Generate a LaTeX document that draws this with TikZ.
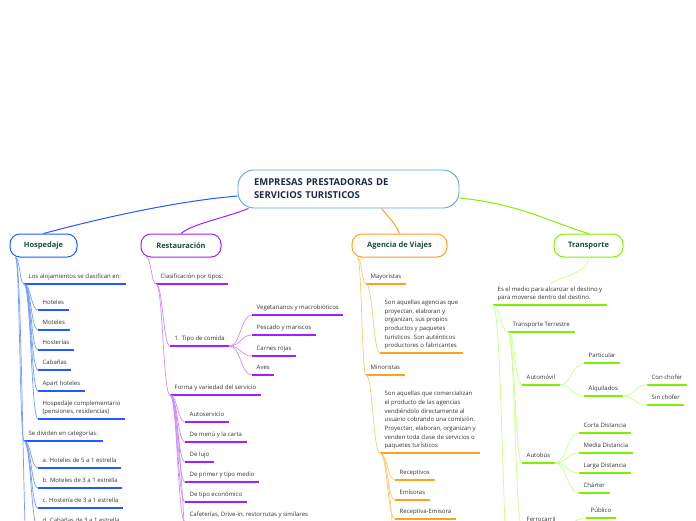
\documentclass[tikz,border=0pt]{standalone}
\usepackage{fontspec}
\setmainfont{Open Sans}
\usetikzlibrary{calc}

\definecolor{rootblue}{HTML}{5AA5E0}
\definecolor{rootnavy}{HTML}{1B2A4A}
\definecolor{titlegreen}{HTML}{1B4D3E}
\definecolor{leafgray}{HTML}{333333}
\definecolor{hospblue}{HTML}{1F5BFF}
\definecolor{hospline}{HTML}{6F9BFF}
\definecolor{restpurple}{HTML}{A020FF}
\definecolor{restline}{HTML}{CC8CFF}
\definecolor{agenorange}{HTML}{FFA020}
\definecolor{agenline}{HTML}{FFC870}
\definecolor{transgreen}{HTML}{80F000}
\definecolor{transline}{HTML}{C4FF8A}

\newcommand{\leaffont}{\fontsize{6}{8.7}\selectfont}
\newcommand{\topicfont}{\fontsize{7.5}{9}\selectfont\bfseries}
\newcommand{\rootfont}{\fontsize{9.5}{13}\selectfont\bfseries}

\tikzset{
  leaf/.style={anchor=south west, inner xsep=4.5pt, inner ysep=3pt,
    text depth=2pt, font=\leaffont, text=leafgray, align=left,
    append after command={(\tikzlastnode.south west)
      edge[draw=#1, line width=1.3pt] (\tikzlastnode.south east)}},
  topic/.style={draw=#1, line width=1pt, rounded corners=10pt, fill=white,
    minimum height=23pt, font=\topicfont, text=titlegreen},
  link/.style={draw=#1, line width=0.7pt,
    to path={let \p1=(\tikztostart), \p2=(\tikztotarget) in
      .. controls ({0.5*\x1+0.5*\x2}, \y1) and ({0.5*\x1+0.5*\x2}, \y2)
      .. (\tikztotarget)}},
}

\begin{document}
\begin{tikzpicture}[x=1pt,y=1pt]
\useasboundingbox (0,0) rectangle (696,-520);
\clip (0,0) rectangle (696,-520);

% central topic
\node[draw=rootblue, line width=0.9pt, rounded corners=16pt, fill=white,
  minimum width=221pt, minimum height=38pt, text width=189pt,
  inner xsep=16pt, align=left, font=\rootfont, text=rootnavy]
  (root) at (348.5,-189) {EMPRESAS PRESTADORAS DE\\SERVICIOS TURISTICOS};

% main topics
\node[topic=hospblue, minimum width=67pt] (hosp) at (43.5,-245.5) {Hospedaje};
\node[topic=restpurple, minimum width=80pt] (rest) at (181,-245.5) {Restauración};
\node[topic=agenorange, minimum width=95pt] (agen) at (399.5,-245.5) {Agencia de Viajes};
\node[topic=transgreen, minimum width=69pt] (trans) at (588.5,-245.5) {Transporte};

\draw[hospblue, line width=1pt] ([yshift=-7pt]root.west)
  .. controls +(-70,-6) and +(45,12) .. (hosp.north);
\draw[restpurple, line width=1pt] ([xshift=11pt]root.south west)
  .. controls +(-25,-10) and +(12,10) .. (rest.north);
\draw[agenorange, line width=1pt] ([xshift=33pt]root.south)
  .. controls +(8,-10) and +(-4,10) .. (agen.north);
\draw[transgreen, line width=1pt] ([yshift=-9pt]root.east)
  .. controls +(60,-6) and +(-40,12) .. (trans.north);

% Hospedaje
\node[leaf=hospblue] (alo) at (24,-284) {Los alojamientos se clasifican en:};
\node[leaf=hospblue] (hot) at (38,-310) {Hoteles};
\node[leaf=hospblue] (mot) at (38,-330) {Moteles};
\node[leaf=hospblue] (hos) at (38,-350) {Hosterías};
\node[leaf=hospblue] (cab) at (38,-370) {Cabañas};
\node[leaf=hospblue] (apa) at (38,-391) {Apart hoteles};
\node[leaf=hospblue] (com) at (38,-419) {Hospedaje complementario\\(pensiones, residencias)};
\node[leaf=hospblue] (cat) at (24,-441) {Se dividen en categorías:};
\node[leaf=hospblue] (ca) at (38,-468) {a. Hoteles de 5 a 1 estrella};
\node[leaf=hospblue] (cb) at (38,-488) {b. Moteles de 3 a 1 estrella};
\node[leaf=hospblue] (cc) at (38,-508) {c. Hostería de 3 a 1 estrella};
\node[leaf=hospblue] (cd) at (38,-528) {d. Cabañas de 3 a 1 estrella};
\coordinate (hospmore) at (30,-600);
\foreach \c in {alo,cat}
  \draw[link=hospline] ([xshift=6pt]hosp.south west) to (\c.south west);
\draw[link=hospline] ([xshift=6pt]hosp.south west) to (hospmore);
\foreach \c in {hot,mot,hos,cab,apa,com}
  \draw[link=hospline] (alo.south west) to (\c.south west);
\foreach \c in {ca,cb,cc,cd}
  \draw[link=hospline] (cat.south west) to (\c.south west);

% Restauracion
\node[leaf=restpurple] (cla) at (156,-284) {Clasificación por tipos:};
\node[leaf=restpurple] (tip) at (170,-346) {1. Tipo de comida};
\node[leaf=restpurple] (veg) at (252,-315) {Vegetarianos y macrobióticos};
\node[leaf=restpurple] (pes) at (252,-335) {Pescado y mariscos};
\node[leaf=restpurple] (car) at (252,-356) {Carnes rojas};
\node[leaf=restpurple] (ave) at (252,-375) {Aves};
\node[leaf=restpurple] (forma) at (170,-395) {Forma y variedad del servicio};
\node[leaf=restpurple] (aut) at (185,-422) {Autoservicio};
\node[leaf=restpurple] (men) at (185,-442) {De menú y la carta};
\node[leaf=restpurple] (luj) at (185,-462) {De lujo};
\node[leaf=restpurple] (pri) at (185,-482) {De primer y tipo medio};
\node[leaf=restpurple] (eco) at (185,-502) {De tipo económico};
\node[leaf=restpurple] (caf) at (185,-522) {Cafeterías, Drive-in, restorrutas y similares};
\coordinate (restmore) at (195,-600);
\draw[link=restline] ([xshift=6pt]rest.south west) to (cla.south west);
\foreach \c in {tip,forma}
  \draw[link=restline] (cla.south west) to (\c.south west);
\foreach \c in {veg,pes,car,ave}
  \draw[link=restline] (tip.south east) to (\c.south west);
\foreach \c in {aut,men,luj,pri,eco,caf}
  \draw[link=restline] (forma.south west) to (\c.south west);
\draw[link=restline] (forma.south west) to (restmore);

% Agencia de Viajes
\node[leaf=agenorange] (may) at (366,-284) {Mayoristas};
\node[leaf=agenorange] (pmy) at (380,-353) {Son aquellas agencias que\\proyectan, elaboran y\\organizan, sus propios\\productos y paquetes\\turísticos. Son auténticos\\productores o fabricantes};
\node[leaf=agenorange] (min) at (366,-375) {Minoristas};
\node[leaf=agenorange] (pmn) at (380,-453) {Son aquellas que comercializan\\el producto de las agencias\\vendiéndolo directamente al\\usuario cobrando una comisión.\\Proyectan, elaboran, organizan y\\venden toda clase de servicios o\\paquetes turísticos};
\node[leaf=agenorange] (rec) at (395,-480) {Receptivos};
\node[leaf=agenorange] (emi) at (395,-500) {Emisoras};
\node[leaf=agenorange] (rem) at (395,-519) {Receptiva-Emisora};
\coordinate (agenmore) at (405,-600);
\foreach \c in {may,min}
  \draw[link=agenline] ([xshift=6pt]agen.south west) to (\c.south west);
\draw[link=agenline] (may.south west) to (pmy.south west);
\draw[link=agenline] (min.south west) to (pmn.south west);
\foreach \c in {rec,emi,rem}
  \draw[link=agenline] (pmn.south west) to (\c.south west);
\draw[link=agenline] (pmn.south west) to (agenmore);

% Transporte
\node[leaf=transgreen] (med) at (493,-305) {Es el medio para alcanzar el destino y\\para moverse dentro del destino.};
\node[leaf=transgreen] (ter) at (508,-332) {Transporte Terrestre};
\node[leaf=transgreen] (aum) at (522,-385) {Automóvil};
\node[leaf=transgreen] (par) at (584,-363) {Particular};
\node[leaf=transgreen] (alq) at (584,-396) {Alquilados};
\node[leaf=transgreen] (con) at (647,-385) {Con chofer};
\node[leaf=transgreen] (sin) at (647,-405) {Sin chofer};
\node[leaf=transgreen] (bus) at (522,-463) {Autobús};
\node[leaf=transgreen] (cor) at (579,-433) {Corta Distancia};
\node[leaf=transgreen] (mdi) at (579,-453) {Media Distancia};
\node[leaf=transgreen] (lar) at (579,-473) {Larga Distancia};
\node[leaf=transgreen] (cha) at (579,-493) {Chárter};
\node[leaf=transgreen] (fer) at (522,-527) {Ferrocarril};
\node[leaf=transgreen] (pub) at (586,-518) {Público};
\coordinate (transmore) at (512,-600);
\draw[transline, line width=0.7pt] (trans.south)
  .. controls +(0,-14) and +(18,8) .. (med.north);
\draw[link=transline] (med.south west) to (ter.south west);
\draw[link=transline] (med.south west) to (transmore);
\foreach \c in {aum,bus,fer}
  \draw[link=transline] (ter.south west) to (\c.south west);
\foreach \c in {par,alq}
  \draw[link=transline] (aum.south east) to (\c.south west);
\foreach \c in {con,sin}
  \draw[link=transline] (alq.south east) to (\c.south west);
\foreach \c in {cor,mdi,lar,cha}
  \draw[link=transline] (bus.south east) to (\c.south west);
\draw[link=transline] (fer.south east) to (pub.south west);
\end{tikzpicture}
\end{document}
